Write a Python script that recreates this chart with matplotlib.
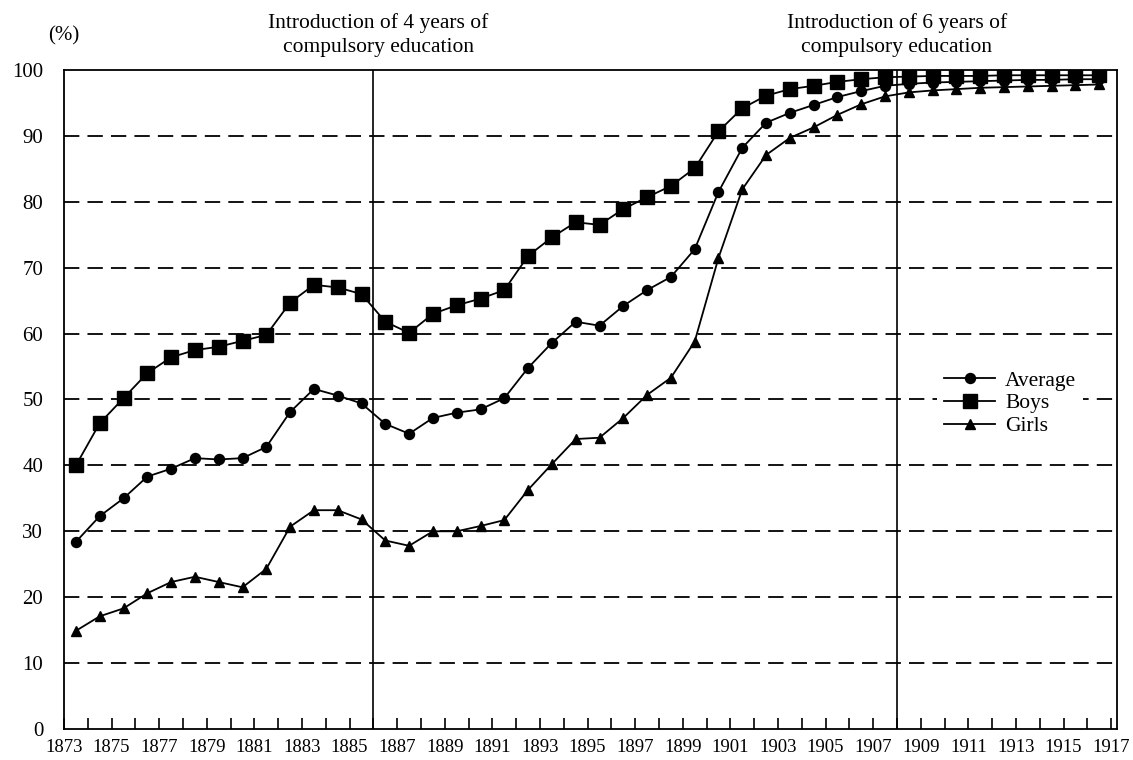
import matplotlib
matplotlib.use("Agg")
import matplotlib.pyplot as plt

years = list(range(1873, 1917))

boys = [40.0, 46.4, 50.2, 54.0, 56.4, 57.5, 58.0, 58.9, 59.8, 64.7,
        67.4, 67.0, 66.0, 61.8, 60.1, 63.0, 64.3, 65.3, 66.6, 71.8,
        74.6, 76.9, 76.5, 78.9, 80.7, 82.4, 85.1, 90.7, 94.2, 96.1,
        97.1, 97.6, 98.2, 98.6, 98.9, 99.0, 99.1, 99.1, 99.1, 99.2,
        99.2, 99.2, 99.2, 99.2]
average = [28.4, 32.3, 35.0, 38.3, 39.5, 41.1, 40.9, 41.1, 42.8, 48.1,
           51.6, 50.6, 49.4, 46.3, 44.8, 47.2, 48.0, 48.5, 50.2, 54.8,
           58.6, 61.8, 61.2, 64.2, 66.6, 68.6, 72.8, 81.5, 88.2, 92.0,
           93.5, 94.7, 95.9, 96.8, 97.6, 97.9, 98.1, 98.2, 98.3, 98.4,
           98.5, 98.5, 98.6, 98.6]
girls = [14.9, 17.1, 18.3, 20.6, 22.3, 23.1, 22.3, 21.5, 24.3, 30.7,
         33.2, 33.2, 31.8, 28.6, 27.8, 30.0, 30.0, 30.8, 31.7, 36.3,
         40.2, 44.0, 44.2, 47.2, 50.7, 53.3, 58.8, 71.5, 81.9, 87.1,
         89.7, 91.3, 93.2, 94.8, 96.0, 96.6, 96.9, 97.1, 97.3, 97.4,
         97.5, 97.6, 97.7, 97.8]

tick_years = list(range(1873, 1918))
label_years = list(range(1873, 1918, 2))
y_ticks = list(range(0, 101, 10))
policy_years = [1886, 1908]
policy_texts = ["Introduction of 4 years of\ncompulsory education",
                "Introduction of 6 years of\ncompulsory education"]

serif = ["Liberation Serif", "DejaVu Serif"]
plt.rcParams['font.family'] = serif

fig = plt.figure(figsize=(11.33, 7.6), dpi=100)
ax = fig.add_axes([0.0565, 0.0408, 0.9295, 0.8671])

xs = [y + 0.5 for y in years]
lw = 1.3
ax.plot(xs, average, color="black", lw=lw, marker="o", ms=7.2, label="Average", zorder=3)
ax.plot(xs, boys, color="black", lw=lw, marker="s", ms=9.5, label="Boys", zorder=3)
ax.plot(xs, girls, color="black", lw=lw, marker="^", ms=7.5, label="Girls", zorder=3)

for gy in y_ticks[1:-1]:
    ax.axhline(gy, color="black", lw=1.3, ls=(0, (8.5, 4.5)), zorder=1)

for py in policy_years:
    ax.axvline(py, color="black", lw=1.2, zorder=2)

for txt, xc in zip(policy_texts, [1886.2, 1908.0]):
    ax.text(xc, 101.9, txt, ha="center", va="bottom", fontsize=15.5,
            linespacing=1.38, clip_on=False)

ax.set_xlim(1873, 1917.25)
ax.set_ylim(0, 100)
ax.set_xticks(tick_years)
ax.set_xticklabels([str(t) if t in label_years else "" for t in tick_years])
ax.tick_params(axis="x", direction="in", length=8, width=1.2, labelsize=13.5, pad=7)
ax.set_yticks(y_ticks)
ax.tick_params(axis="y", length=0, labelsize=15, pad=15)
for s in ax.spines.values():
    s.set_linewidth(1.3)

ax.text(0.0, 1.052, "(%)", transform=ax.transAxes, ha="center", va="center", fontsize=15)

leg = ax.legend(loc="center left", bbox_to_anchor=(0.819, 0.494), frameon=True,
                fontsize=15.5, handlelength=2.4, labelspacing=0.12, borderpad=0.3,
                handletextpad=0.45, fancybox=False, edgecolor="white", framealpha=1)
leg.get_frame().set_linewidth(0)

fig.savefig("out.png", dpi=100, facecolor="white")
